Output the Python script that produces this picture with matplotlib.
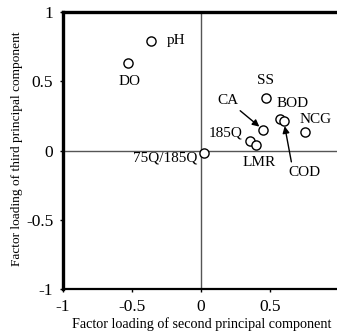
import matplotlib
matplotlib.use("Agg")
import matplotlib.pyplot as plt

plt.rcParams['font.family'] = ['Liberation Serif', 'DejaVu Serif']

# Factor loadings (second and third principal components)
names = ["pH", "DO", "SS", "CA", "BOD", "COD", "NCG", "185Q", "LMR", "75Q/185Q"]
pc2 = [-0.36, -0.53, 0.47, 0.45, 0.57, 0.60, 0.75, 0.355, 0.395, 0.025]
pc3 = [0.79, 0.63, 0.38, 0.15, 0.23, 0.21, 0.13, 0.065, 0.04, -0.015]

xticks = [-1, -0.5, 0, 0.5]
xticklabels = ["-1", "-0.5", "0", "0.5"]
yticks = [-1, -0.5, 0, 0.5, 1]
yticklabels = ["-1", "-0.5", "0", "0.5", "1"]

fig = plt.figure(figsize=(3.37, 3.32), dpi=100)
ax = fig.add_axes([63 / 337, 1 - 289 / 332, 276 / 337, 277 / 332])

ax.axhline(0, color="#555555", lw=1.0, zorder=1)
ax.axvline(0, color="#555555", lw=1.0, zorder=1)

ax.plot(pc2, pc3, linestyle="none", marker="o", ms=6.6, mfc="white",
        mec="black", mew=1.0, zorder=3, clip_on=False)

# label offsets in points: (dx, dy, ha, va)
offsets = {
    "pH": (10.8, 0.7, "left", "center"),
    "DO": (1, -13, "center", "center"),
    "SS": (0, 12.2, "center", "center"),
    "BOD": (9, 10.8, "center", "center"),
    "NCG": (8, 9.4, "center", "center"),
    "185Q": (-5, 6.3, "right", "center"),
    "LMR": (2.9, -12.7, "center", "center"),
    "75Q/185Q": (-5, -3.6, "right", "center"),
}
fs = 11
for n, x, y in zip(names, pc2, pc3):
    if n in offsets:
        dx, dy, ha, va = offsets[n]
        ax.annotate(n, (x, y), xytext=(dx, dy), textcoords="offset points",
                    ha=ha, va=va, fontsize=fs, zorder=4)

arrow = dict(arrowstyle="-|>", color="black", lw=1.0, mutation_scale=10,
             shrinkA=1, shrinkB=3.5)
i = names.index("CA")
ax.annotate("CA", (pc2[i], pc3[i]), xytext=(-25, 21), textcoords="offset points",
            ha="center", va="center", fontsize=fs,
            arrowprops=dict(arrow, relpos=(0.85, 0.0)), zorder=4)
i = names.index("COD")
ax.annotate("COD", (pc2[i], pc3[i]), xytext=(14.8, -36.8), textcoords="offset points",
            ha="center", va="center", fontsize=fs,
            arrowprops=dict(arrow, relpos=(0.12, 1.0)), zorder=4)

ax.set_xlim(-1, 1)
ax.set_ylim(-1, 1)
ax.set_xticks(xticks)
ax.set_xticklabels(xticklabels)
ax.set_yticks(yticks)
ax.set_yticklabels(yticklabels)
ax.tick_params(labelsize=12.5, length=2, width=1, direction="out")
ax.tick_params(axis="x", pad=5.5)
ax.tick_params(axis="y", pad=5)

ax.spines["right"].set_visible(False)
ax.spines["left"].set_linewidth(2.4)
ax.spines["top"].set_linewidth(2.4)
ax.spines["bottom"].set_linewidth(1.6)

fig.text(202 / 337, 1 - 324 / 332, "Factor loading of second principal component",
         ha="center", va="center", fontsize=10.2)
fig.text(17 / 337, 1 - 149 / 332, "Factor loading of third principal component",
         ha="center", va="center", rotation=90, fontsize=9.6)

fig.savefig("out.png", dpi=100)
